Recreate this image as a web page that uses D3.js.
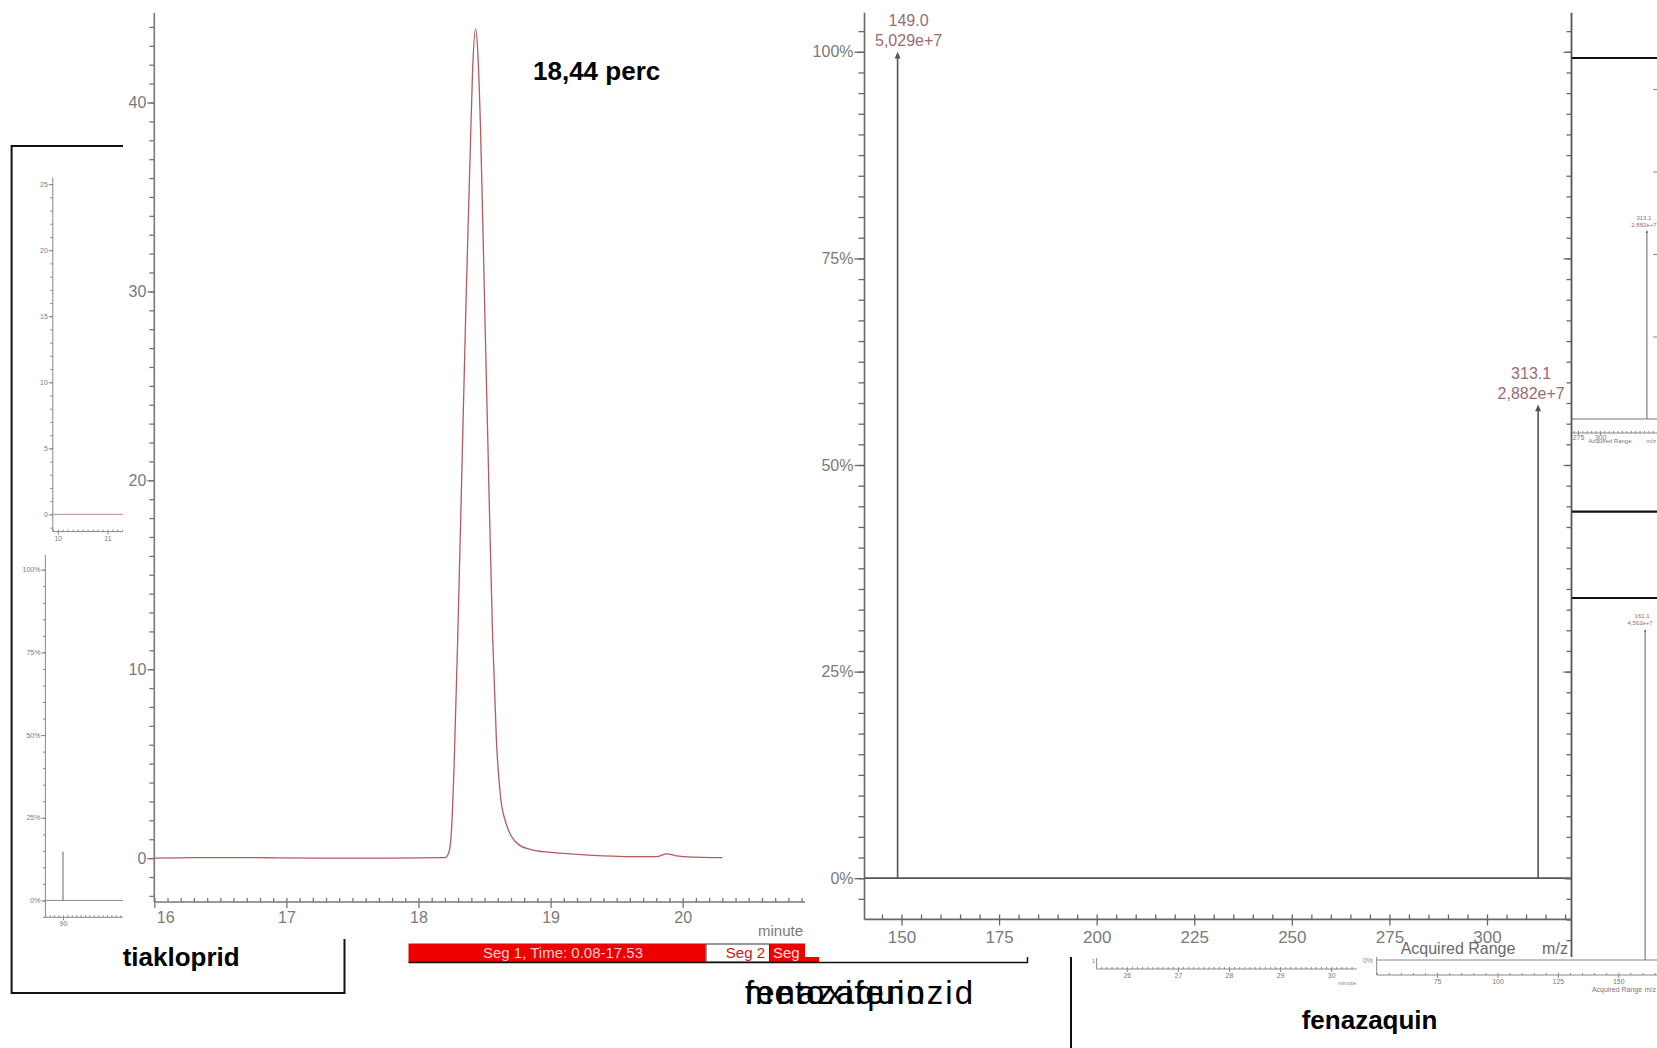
<!DOCTYPE html>
<html>
<head>
<meta charset="utf-8">
<script src="https://cdn.jsdelivr.net/npm/d3@7"></script>
<style>
  html, body { margin: 0; padding: 0; background: #fff; }
  svg { display: block; font-family: 'Liberation Sans', Arial, sans-serif; }
</style>
</head>
<body>
<svg id="chart" width="1657" height="1048"></svg>
<script>
// ---------------- data ----------------
// Tiakloprid chromatogram (retention time in minutes, signal)
const traceTime = [16.00,16.30,16.80,17.30,17.80,18.20,18.23,18.25,18.27,18.30,18.33,18.36,18.39,18.41,18.432,18.45,18.47,18.50,18.53,18.56,18.59,18.62,18.66,18.70,18.76,18.85,19.00,19.20,19.40,19.60,19.80,19.88,19.95,20.10,20.30];
const traceSignal = [0,0.03,0.02,0,0,0.02,0.3,1.5,5.0,12.5,21.0,29.5,37.0,41.8,43.9,42.5,38.5,29.5,20.5,12.0,6.2,3.3,1.9,1.2,0.7,0.45,0.3,0.2,0.12,0.08,0.08,0.22,0.12,0.05,0.02];
const chromYTicks = [0, 10, 20, 30, 40];
const chromXTicks = [16, 17, 18, 19, 20];
const peakNote = "18,44 perc";

// Mass spectrum of the peak
const specMz = [149.0, 313.1];
const specAbundance = [5.029e7, 2.882e7];
const specMzLabels = ["149.0", "313.1"];
const specAbundanceLabels = ["5,029e+7", "2,882e+7"];
const specXTicks = [150, 175, 200, 225, 250, 275, 300];
const pctTicks = [0, 25, 50, 75, 100];

// Small panels
const smallChromYTicks = [0, 5, 10, 15, 20, 25];
const smallChromXTicks = [10, 11];
const smallSpecMz = [90];
const smallSpecPct = [14.7];
const smallSpecXTicks = [90];
const urSpecMz = [313.1];
const urSpecPct = [57.3];
const urSpecLabels = ["313.1", "2,882e+7"];
const urXTicks = [275, 300];
const lrSpecMz = [161.1];
const lrSpecPct = [100];
const lrSpecLabels = ["161.1", "4,562e+7"];
const lrXTicks = [75, 100, 125, 150];
const bottomChromXTicks = [26, 27, 28, 29, 30];

const segLabels = ["Seg 1, Time: 0.08-17.53", "Seg 2", "Seg"];
const compoundNames = ["tiakloprid", "fenazaquin"];
const overlapNames = ["metoxifenozid", "fenazaquin"];

// ---------------- drawing ----------------
const svg = d3.select("#chart");
svg.append("rect").attr("width", 1657).attr("height", 1048).attr("fill", "#fff");

const LBL = "#7a7a7a", ROSE = "#9b6b73";
const intFmt = d => String(d);

// style helper for d3 axes
function styleAxis(g, color, fontSize, strokeW) {
  g.select(".domain").remove();
  g.selectAll(".tick line").attr("stroke", color).attr("stroke-width", strokeW || 1);
  g.selectAll(".tick text").attr("fill", LBL).attr("font-size", fontSize || 16)
    .attr("font-family", "'Liberation Sans', Arial, sans-serif");
}
function vline(g, x, y1, y2, color, w) {
  g.append("line").attr("x1", x).attr("x2", x).attr("y1", y1).attr("y2", y2)
    .attr("stroke", color).attr("stroke-width", w);
}
function hline(g, y, x1, x2, color, w) {
  g.append("line").attr("x1", x1).attr("x2", x2).attr("y1", y).attr("y2", y)
    .attr("stroke", color).attr("stroke-width", w);
}
function arrowHead(g, x, y, color, s) {
  g.append("path").attr("d", `M${x - s},${y + 2.2 * s} L${x},${y} L${x + s},${y + 2.2 * s} Z`).attr("fill", color);
}

// ===== tiakloprid frame with two small charts =====
const box = svg.append("g");
box.append("path").attr("d", "M123,146 H11.6 V993 H344.5 V900")
  .attr("fill", "none").attr("stroke", "#111").attr("stroke-width", 2);

// small chromatogram
const scY = d3.scaleLinear().domain([-1.3, 25.5]).range([531.6, 177.5]);
const scX = d3.scaleLinear().domain([9.9, 11.4]).range([52.8, 52.8 + 1.5 * 49.7]);
vline(box, 52.8, 177.5, 531.6, "#888", 1);
box.append("g").attr("transform", "translate(52.8,0)")
  .call(d3.axisLeft(scY).tickValues(d3.range(-1, 26)).tickSize(2.5).tickFormat(""))
  .call(g => styleAxis(g, "#888"));
box.append("g").attr("transform", "translate(52.8,0)")
  .call(d3.axisLeft(scY).tickValues(smallChromYTicks).tickSize(4).tickPadding(1).tickFormat(intFmt))
  .call(g => styleAxis(g, "#888", 7));
hline(box, 531.6, 52.8, 123, "#888", 1);
box.append("g").attr("transform", "translate(0,531.6)")
  .call(d3.axisBottom(scX).tickValues(d3.range(99, 115).map(v => v / 10)).tickSize(-2).tickFormat(""))
  .call(g => styleAxis(g, "#888"));
box.append("g").attr("transform", "translate(0,531.6)")
  .call(d3.axisBottom(scX).tickValues(smallChromXTicks).tickSize(3).tickPadding(1).tickFormat(intFmt))
  .call(g => styleAxis(g, "#888", 7));
hline(box, scY(0), 52.8, 123, "#c9a3a3", 1.2);

// small spectrum
const ssY = d3.scaleLinear().domain([-5.1, 104.5]).range([917.3, 554.8]);
const ssX = d3.scaleLinear().domain([86, 104]).range([45.4, 45.4 + 18 * 4.4]);
vline(box, 45.4, 554.8, 917.3, "#888", 1);
box.append("g").attr("transform", "translate(45.4,0)")
  .call(d3.axisLeft(ssY).tickValues(d3.range(-5, 105, 5)).tickSize(2.5).tickFormat(""))
  .call(g => styleAxis(g, "#888"));
box.append("g").attr("transform", "translate(45.4,0)")
  .call(d3.axisLeft(ssY).tickValues(pctTicks).tickSize(4).tickPadding(1).tickFormat(d => d + "%"))
  .call(g => styleAxis(g, "#888", 7));
hline(box, 917.3, 45.4, 123, "#888", 1);
box.append("g").attr("transform", "translate(0,917.3)")
  .call(d3.axisBottom(ssX).tickValues(d3.range(86, 104)).tickSize(-2).tickFormat(""))
  .call(g => styleAxis(g, "#888"));
box.append("g").attr("transform", "translate(0,917.3)")
  .call(d3.axisBottom(ssX).tickValues(smallSpecXTicks).tickSize(3).tickPadding(1).tickFormat(intFmt))
  .call(g => styleAxis(g, "#888", 7));
hline(box, ssY(0), 45.4, 123, "#888", 1);
box.selectAll("line.bar").data(smallSpecMz).join("line").attr("class", "bar")
  .attr("x1", d => ssX(d)).attr("x2", d => ssX(d))
  .attr("y1", ssY(0)).attr("y2", (d, i) => ssY(smallSpecPct[i]))
  .attr("stroke", "#666").attr("stroke-width", 1);

// ===== main chromatogram =====
const chrom = svg.append("g");
chrom.append("rect").attr("x", 123).attr("y", 0).attr("width", 682).attr("height", 939).attr("fill", "#fff");
const cyPer = 18.89, cy0 = 858.1;
const cy = d3.scaleLinear().domain([(cy0 - 902) / cyPer, (cy0 - 13) / cyPer]).range([902, 13]);
const cx = d3.scaleLinear().domain([16, 20.95]).range([154.3, 154.3 + 4.95 * 132.1]);

vline(chrom, 154.3, 13, 902, "#777", 1.6);
chrom.append("g").attr("transform", "translate(154.3,0)")
  .call(d3.axisLeft(cy).tickValues(d3.range(-2, 45)).tickSize(5).tickFormat(""))
  .call(g => styleAxis(g, "#777", 16, 1.3));
chrom.append("g").attr("transform", "translate(154.3,0)")
  .call(d3.axisLeft(cy).tickValues(chromYTicks).tickSize(7).tickPadding(1).tickFormat(intFmt))
  .call(g => styleAxis(g, "#777", 16, 1.3));

hline(chrom, 902, 154.3, 805, "#777", 1.6);
chrom.append("g").attr("transform", "translate(0,902)")
  .call(d3.axisBottom(cx).tickValues(d3.range(160, 210).map(v => v / 10)).tickSize(-4).tickFormat(""))
  .call(g => styleAxis(g, "#777", 16, 1.3));
chrom.append("g").attr("transform", "translate(0,902)")
  .call(d3.axisBottom(cx).tickValues(chromXTicks).tickSize(6).tickPadding(4).tickFormat(intFmt))
  .call(g => styleAxis(g, "#777", 16, 1.3))
  .call(g => g.selectAll(".tick text").filter(d => d === 16).attr("text-anchor", "start").attr("dx", 2));
chrom.append("text").attr("x", 803).attr("y", 936).attr("text-anchor", "end")
  .attr("font-size", 15).attr("fill", LBL).text("minute");

const traceLine = d3.line().x(d => cx(d[0])).y(d => cy(d[1])).curve(d3.curveMonotoneX);
chrom.append("path").datum(traceTime.map((t, i) => [t, traceSignal[i]]))
  .attr("d", traceLine).attr("fill", "none").attr("stroke", "#b75a60").attr("stroke-width", 1.3);

chrom.append("text").attr("x", 533).attr("y", 79.5).attr("font-size", 26).attr("font-weight", "bold")
  .attr("fill", "#000").text(peakNote);

// ===== segment bar =====
const seg = svg.append("g");
seg.append("rect").attr("x", 408.5).attr("y", 943.5).attr("width", 297).attr("height", 19).attr("fill", "#ee0000");
seg.append("rect").attr("x", 706).attr("y", 944).attr("width", 63.5).attr("height", 18).attr("fill", "#fff")
  .attr("stroke", "#333").attr("stroke-width", 1);
seg.append("rect").attr("x", 770).attr("y", 943.5).attr("width", 49).attr("height", 19).attr("fill", "#ee0000");
hline(seg, 962.5, 408.5, 1027.5, "#111", 1.5);
vline(seg, 1027.5, 956, 963, "#111", 1.5);
seg.append("text").attr("x", 563).attr("y", 958).attr("text-anchor", "middle")
  .attr("font-size", 15).attr("fill", "#fbd2d2").text(segLabels[0]);
seg.append("text").attr("x", 765).attr("y", 958).attr("text-anchor", "end")
  .attr("font-size", 15).attr("fill", "#d21414").text(segLabels[1]);
seg.append("text").attr("x", 773).attr("y", 958)
  .attr("font-size", 15).attr("fill", "#fde2e2").text(segLabels[2]);

// ===== main mass spectrum =====
const spec = svg.append("g");
spec.append("rect").attr("x", 805).attr("y", 0).attr("width", 766).attr("height", 957).attr("fill", "#fff");
const syPer = 8.264, sy0 = 878.2;
const sy = d3.scaleLinear().domain([(sy0 - 919.4) / syPer, (sy0 - 12.7) / syPer]).range([919.4, 12.7]);
const sx = d3.scaleLinear().domain([150, 300]).range([901.5, 1487]);
const basePeak = d3.max(specAbundance);
const specPct = specAbundance.map(v => v / basePeak * 100);

vline(spec, 864.5, 12.7, 919.4, "#666", 1.6);
spec.append("g").attr("transform", "translate(864.5,0)")
  .call(d3.axisLeft(sy).tickValues(d3.range(-2.5, 105, 2.5)).tickSize(6).tickFormat(""))
  .call(g => styleAxis(g, "#666", 16, 1.3));
spec.append("g").attr("transform", "translate(864.5,0)")
  .call(d3.axisLeft(sy).tickValues(pctTicks).tickSize(10).tickPadding(1).tickFormat(d => d + "%"))
  .call(g => styleAxis(g, "#666", 16, 1.3));

hline(spec, 919.4, 864.5, 1571.5, "#666", 1.6);
spec.append("g").attr("transform", "translate(0,919.4)")
  .call(d3.axisBottom(sx).tickValues(d3.range(145, 325, 5)).tickSize(-5).tickFormat(""))
  .call(g => styleAxis(g, "#666", 16, 1.3));
spec.append("g").attr("transform", "translate(0,919.4)")
  .call(d3.axisBottom(sx).tickValues(specXTicks).tickSize(6).tickPadding(6).tickFormat(intFmt))
  .call(g => styleAxis(g, "#666", 17, 1.3));
spec.append("text").attr("x", 1458).attr("y", 954).attr("text-anchor", "middle")
  .attr("font-size", 16).attr("fill", "#6a6a6a").text("Acquired Range");
spec.append("text").attr("x", 1555).attr("y", 954).attr("text-anchor", "middle")
  .attr("font-size", 16).attr("fill", "#6a6a6a").text("m/z");

hline(spec, sy(0), 864.5, 1571.5, "#555", 1.8);
const labelShift = [11, -7];
specMz.forEach((mz, i) => {
  const x = sx(mz), yTop = sy(specPct[i]);
  vline(spec, x, sy(0), yTop + 3, "#555", 1.6);
  arrowHead(spec, x, yTop, "#555", 3);
  spec.append("text").attr("x", x + labelShift[i]).attr("y", yTop - 26).attr("text-anchor", "middle")
    .attr("font-size", 16).attr("fill", ROSE).text(specMzLabels[i]);
  spec.append("text").attr("x", x + labelShift[i]).attr("y", yTop - 6).attr("text-anchor", "middle")
    .attr("font-size", 16).attr("fill", ROSE).text(specAbundanceLabels[i]);
});

// ===== right-hand edge panels =====
const right = svg.append("g");
const sy2 = d3.scaleLinear().domain([(sy0 - 957) / syPer, (sy0 - 12.7) / syPer]).range([957, 12.7]);
vline(right, 1571.5, 12.7, 957, "#555", 1.8);
right.append("g").attr("transform", "translate(1571.5,0)")
  .call(d3.axisLeft(sy2).tickValues(d3.range(-7.5, 105, 2.5)).tickSize(5).tickFormat(""))
  .call(g => styleAxis(g, "#666", 16, 1.3));
right.append("g").attr("transform", "translate(1571.5,0)")
  .call(d3.axisLeft(sy2).tickValues(pctTicks).tickSize(8).tickFormat(""))
  .call(g => styleAxis(g, "#666", 16, 1.3));

// upper-right spectrum
const urY = d3.scaleLinear().domain([0, 100]).range([419, 89]);
const urBarX = d3.scaleLinear().domain([275, 325]).range([1541, 1680]);
const urAxisX = d3.scaleLinear().domain([268.2, 364.8]).range([1572, 1657]);
hline(right, 58, 1572, 1657, "#111", 2.2);
right.append("g").attr("transform", "translate(1657,0)")
  .call(d3.axisLeft(urY).tickValues([25, 50, 75, 100]).tickSize(4).tickFormat(""))
  .call(g => styleAxis(g, "#888"));
hline(right, urY(0), 1572, 1657, "#777", 1.2);
urSpecMz.forEach((mz, i) => {
  const x = urBarX(mz), yTop = urY(urSpecPct[i]);
  vline(right, x, urY(0), yTop + 2, "#666", 1);
  arrowHead(right, x, yTop, "#666", 1.3);
  right.append("text").attr("x", x - 3).attr("y", yTop - 10).attr("text-anchor", "middle")
    .attr("font-size", 6).attr("fill", ROSE).text(urSpecLabels[0]);
  right.append("text").attr("x", x - 3).attr("y", yTop - 3).attr("text-anchor", "middle")
    .attr("font-size", 6).attr("fill", ROSE).text(urSpecLabels[1]);
});
hline(right, 433, 1572, 1657, "#888", 1);
right.append("g").attr("transform", "translate(0,433)")
  .call(d3.axisBottom(urAxisX).tickValues(d3.range(270, 365, 5)).tickSize(-2).tickFormat(""))
  .call(g => styleAxis(g, "#888"));
right.append("g").attr("transform", "translate(0,433)")
  .call(d3.axisBottom(urAxisX).tickValues(urXTicks).tickSize(2).tickPadding(0).tickFormat(intFmt))
  .call(g => styleAxis(g, "#888", 7));
right.append("text").attr("x", 1610).attr("y", 443).attr("text-anchor", "middle")
  .attr("font-size", 6).attr("fill", "#777").text("Acquired Range");
right.append("text").attr("x", 1656).attr("y", 443).attr("text-anchor", "end")
  .attr("font-size", 6).attr("fill", "#777").text("m/z");

hline(right, 511.7, 1572, 1657, "#111", 2.2);
hline(right, 598, 1572, 1657, "#111", 2.2);

// lower-right spectrum
const lrY = d3.scaleLinear().domain([0, 100]).range([960, 629]);
const lrX = d3.scaleLinear().domain([50, 175]).range([1376.7, 1376.7 + 125 * 2.416]);
hline(right, lrY(0), 1376.7, 1657, "#888", 1.2);
vline(right, 1376.7, 957, 975, "#888", 1);
right.append("text").attr("x", 1373).attr("y", 963).attr("text-anchor", "end")
  .attr("font-size", 7).attr("fill", "#888").text("0%");
hline(right, 975, 1376.7, 1657, "#888", 1);
right.append("g").attr("transform", "translate(0,975)")
  .call(d3.axisBottom(lrX).tickValues(d3.range(50, 175, 5)).tickSize(-2).tickFormat(""))
  .call(g => styleAxis(g, "#888"));
right.append("g").attr("transform", "translate(0,975)")
  .call(d3.axisBottom(lrX).tickValues(lrXTicks).tickSize(3).tickPadding(1).tickFormat(intFmt))
  .call(g => styleAxis(g, "#888", 7));
right.append("text").attr("x", 1617).attr("y", 992).attr("text-anchor", "middle")
  .attr("font-size", 7).attr("fill", "#777").text("Acquired Range");
right.append("text").attr("x", 1656).attr("y", 992).attr("text-anchor", "end")
  .attr("font-size", 7).attr("fill", "#777").text("m/z");
lrSpecMz.forEach((mz, i) => {
  const x = lrX(mz), yTop = lrY(lrSpecPct[i]);
  vline(right, x, lrY(0), yTop + 2, "#666", 1);
  arrowHead(right, x, yTop, "#666", 1.3);
  right.append("text").attr("x", x - 3).attr("y", yTop - 11).attr("text-anchor", "middle")
    .attr("font-size", 6).attr("fill", ROSE).text(lrSpecLabels[0]);
  right.append("text").attr("x", x - 5).attr("y", yTop - 4).attr("text-anchor", "middle")
    .attr("font-size", 6).attr("fill", ROSE).text(lrSpecLabels[1]);
});

// ===== fenazaquin chromatogram strip =====
const bottom = svg.append("g");
vline(bottom, 1071, 957, 1048, "#111", 2);
const bcX = d3.scaleLinear().domain([25.41, 30.5]).range([1096.7, 1356.7]);
vline(bottom, 1096.7, 958, 969, "#888", 1);
bottom.append("text").attr("x", 1095).attr("y", 963).attr("text-anchor", "end")
  .attr("font-size", 6).attr("fill", "#888").text("1");
hline(bottom, 969, 1096.7, 1356.7, "#888", 1);
bottom.append("g").attr("transform", "translate(0,969)")
  .call(d3.axisBottom(bcX).tickValues(d3.range(255, 305).map(v => v / 10)).tickSize(-2).tickFormat(""))
  .call(g => styleAxis(g, "#888"));
bottom.append("g").attr("transform", "translate(0,969)")
  .call(d3.axisBottom(bcX).tickValues(bottomChromXTicks).tickSize(3).tickPadding(1).tickFormat(intFmt))
  .call(g => styleAxis(g, "#888", 7));
bottom.append("text").attr("x", 1347).attr("y", 985).attr("text-anchor", "middle")
  .attr("font-size", 6).attr("fill", "#888").text("minute");

// ===== compound names =====
svg.append("text").attr("x", 122.7).attr("y", 966).attr("font-size", 26).attr("font-weight", "bold")
  .attr("fill", "#000").text(compoundNames[0]);
svg.append("text").attr("x", 1301.7).attr("y", 1029).attr("font-size", 26).attr("font-weight", "bold")
  .attr("fill", "#000").text(compoundNames[1]);

// two captions printed on top of each other
const ov = svg.append("g")
  .attr("font-family", "'Liberation Sans Narrow', 'Arial Narrow', 'Liberation Sans', sans-serif")
  .attr("font-size", 33).attr("fill", "#000");
const ovTexts = ov.selectAll("text").data(overlapNames).join("text")
  .attr("x", 745).attr("y", 1004).text(d => d);
const w0 = ovTexts.nodes()[0].getComputedTextLength();
const ls = (228 - w0) / (overlapNames[0].length - 1);
ovTexts.attr("letter-spacing", ls);
</script>
</body>
</html>
